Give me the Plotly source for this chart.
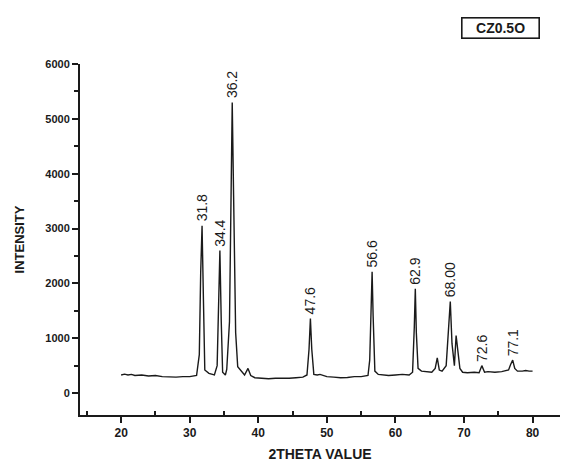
import plotly.graph_objects as go

# Diffraction scan of sample CZ0.5O (2-theta in degrees, counts)
two_theta = [
    20.0, 20.5, 21.0, 21.5, 22.0, 23.0, 24.0, 25.0, 26.0, 27.0, 28.0, 29.0, 30.0,
    31.0, 31.4, 31.6, 31.8, 32.0, 32.2, 32.8, 33.2, 33.6, 34.0, 34.2, 34.4, 34.6,
    34.8, 35.2, 35.4, 35.8, 36.05, 36.2, 36.4, 36.7, 37.0, 37.5, 38.0, 38.5, 38.9,
    39.5, 40.5, 41.5, 42.5, 43.5, 44.5, 45.5, 46.5, 47.1, 47.4, 47.6, 47.8, 48.1,
    48.6, 49.0, 50.0, 51.0, 52.0, 53.0, 54.0, 55.0, 56.0, 56.25, 56.45, 56.6, 56.75,
    57.0, 57.5, 58.0, 59.0, 60.0, 61.0, 62.0, 62.5, 62.75, 62.9, 63.05, 63.3, 63.8,
    64.5, 65.3, 65.8, 66.1, 66.4, 66.8, 67.4, 67.8, 68.0, 68.25, 68.6, 68.85, 69.1,
    69.4, 69.8, 70.5, 71.5, 72.2, 72.6, 73.0, 73.5, 74.5, 75.5, 76.5, 76.8, 77.1,
    77.4, 77.8, 78.5, 79.0, 79.5, 80.0,
]
intensity = [
    330, 345, 330, 340, 320, 330, 310, 320, 300, 295, 290, 300, 300,
    320, 700, 2200, 3050, 1700, 420, 360, 350, 330, 500, 1700, 2600, 1300,
    380, 330, 430, 1300, 4400, 5300, 3600, 1100, 480, 400, 330, 450, 320,
    280, 270, 260, 270, 265, 270, 280, 290, 330, 800, 1360, 800, 340,
    330, 340, 300, 290, 280, 285, 300, 300, 320, 600, 1700, 2210, 1400,
    400, 340, 330, 320, 330, 340, 330, 380, 1200, 1900, 1100, 450, 400,
    390, 380, 450, 640, 420, 400, 500, 1200, 1670, 900, 500, 1050, 800,
    450, 380, 370, 380, 370, 500, 380, 390, 380, 390, 420, 520, 600,
    450, 400, 400, 410, 400, 400,
]

# Labelled reflections
peak_labels = ["31.8", "34.4", "36.2", "47.6", "56.6", "62.9", "68.00", "72.6", "77.1"]
peak_pos = [31.8, 34.4, 36.2, 47.6, 56.6, 62.9, 68.0, 72.6, 77.1]
peak_top = [3050, 2600, 5300, 1360, 2210, 1900, 1670, 500, 600]

font_family = "Liberation Sans, Arial, sans-serif"
ink = "#1a1a1a"

fig = go.Figure()
fig.add_trace(go.Scatter(
    x=two_theta, y=intensity, mode="lines",
    line=dict(color=ink, width=1.4), showlegend=False, hoverinfo="skip",
))

for lab, px, py in zip(peak_labels, peak_pos, peak_top):
    fig.add_annotation(
        x=px, y=py, text=lab, showarrow=False, textangle=-90,
        xanchor="center", yanchor="bottom", yshift=2,
        font=dict(family=font_family, size=14, color=ink),
    )

fig.add_annotation(
    xref="paper", yref="paper", x=0.875, y=1.103, text="CZ0.5O",
    xanchor="center", yanchor="middle", width=72, height=15,
    showarrow=False, bordercolor=ink, borderwidth=1.6, borderpad=2,
    font=dict(family=font_family, size=14, color=ink, weight="bold"),
)

fig.update_layout(
    width=568, height=470,
    margin=dict(l=80, r=8, t=64, b=55),
    paper_bgcolor="white", plot_bgcolor="white",
    font=dict(family=font_family, color=ink),
    xaxis=dict(
        range=[14, 84], tickvals=[20, 30, 40, 50, 60, 70, 80],
        showgrid=False, zeroline=False, showline=True, linecolor=ink, linewidth=2,
        ticks="outside", ticklen=6, tickwidth=1.6, tickcolor=ink,
        minor=dict(tickvals=[15, 25, 35, 45, 55, 65, 75], ticks="inside",
                   ticklen=4, tickwidth=1.6, tickcolor=ink),
        tickfont=dict(size=12, color=ink, weight="bold"),
        title=dict(text="2THETA VALUE", font=dict(size=14, color=ink, weight="bold"),
                   standoff=10),
    ),
    yaxis=dict(
        range=[-400, 6000], tickvals=[0, 1000, 2000, 3000, 4000, 5000, 6000],
        showgrid=False, zeroline=False, showline=True, linecolor=ink, linewidth=2,
        ticks="outside", ticklen=6, tickwidth=1.6, tickcolor=ink,
        minor=dict(tickvals=[500, 1500, 2500, 3500, 4500, 5500], ticks="outside",
                   ticklen=4, tickwidth=1.6, tickcolor=ink),
        tickfont=dict(size=11, color=ink, weight="bold"),
        title=dict(text="INTENSITY", font=dict(size=13, color=ink, weight="bold"),
                   standoff=18),
    ),
)

fig.write_html("out.html")
